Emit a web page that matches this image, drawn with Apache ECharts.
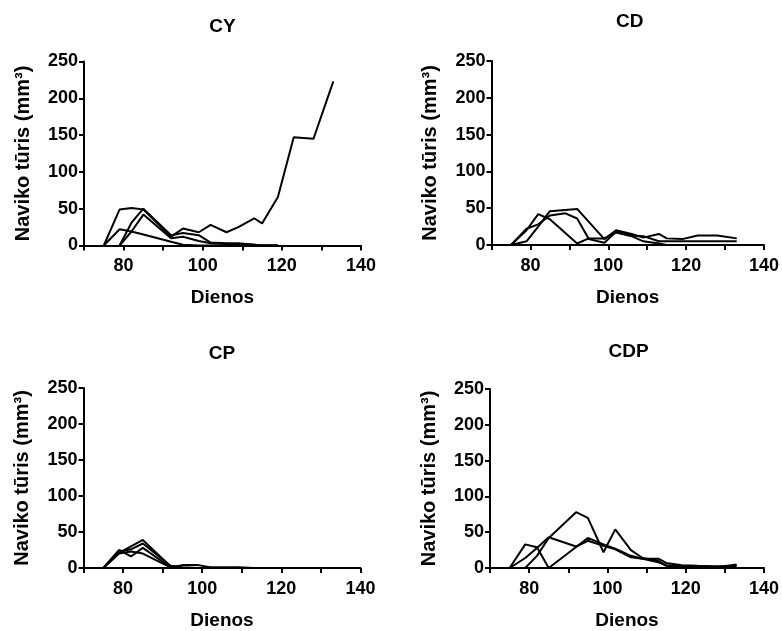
<!DOCTYPE html>
<html>
<head>
<meta charset="utf-8">
<script src="https://cdn.jsdelivr.net/npm/echarts@6/dist/echarts.min.js"></script>
<style>
  html, body { margin: 0; padding: 0; background: #fff; }
  #chart { width: 782px; height: 631px; }
</style>
</head>
<body>
<div id="chart"></div>
<script>
// Measurement days shared by every animal (null = not measured)
const days = [75, 79, 82, 85, 89, 92, 95, 99, 102, 106, 109, 113, 115, 119, 123, 128, 133];

// Tumour volume (mm³) per animal, group CY
const cy1 = [0, 49, 51, 49, null, 12, 23, 18, 28, 18, 25, 37, 30, 66, 147, 145, 223];
const cy2 = [0, 22, 19, 15, null, 5, 1, 0, 0, 0, 0, 0, 0, 0, null, null, null];
const cy3 = [null, 0, 31, 50, null, 14, 17, 14, 4, 3, 3, 1, 0, 0, null, null, null];
const cy4 = [null, 0, 19, 42, null, 10, 12, 6, 3, 2, 2, 1, 0, 0, null, null, null];

// Group CD
const cd1 = [0, 20, 42, 35, null, 2, 9, 9, 17, 12, 5, 2, 0, 0, null, null, null];
const cd2 = [0, 5, 25, 46, null, 49, null, 8, 20, 15, 10, 15, 9, 8, 13, 13, 9];
const cd3 = [0, 22, 28, 40, 43, 36, 8, 3, 18, 13, 12, 5, 5, 5, 5, 5, 5];

// Group CP
const cp1 = [0, 21, 30, 39, null, 2, 0, 0, 0, 0, 0, 0, 0, null, null, null, null];
const cp2 = [0, 23, 26, 34, null, 3, 1, 0, 0, 0, 0, 0, 0, null, null, null, null];
const cp3 = [0, 25, 16, 28, null, 1, 4, 4, 1, 1, 1, 0, 0, null, null, null, null];
const cp4 = [0, 20, 23, 20, null, 1, 0, 0, 0, 0, 0, 0, 0, null, null, null, null];

// Group CDP
const cdp1 = [0, 14, 28, 43, null, 30, 38, 31, 26, 15, 13, 13, 7, 4, 3, 2, 2];
const cdp2 = [0, 33, 29, 0, null, null, 42, 33, 27, 17, 13, 8, 4, 2, 2, 1, 5];
const cdp3 = [null, 0, 17, 42, null, 78, 70, 22, 54, 25, 14, 10, 3, 2, 2, 2, 3];

const groupNames = ['CY', 'CD', 'CP', 'CDP'];
const groupSeries = [[cy1, cy2, cy3, cy4], [cd1, cd2, cd3], [cp1, cp2, cp3, cp4], [cdp1, cdp2, cdp3]];

const xTicks = [80, 100, 120, 140];
const yName = 'Naviko tūris (mm³)';
const xName = 'Dienos';

const FONT = '"Liberation Sans", Arial, Helvetica, sans-serif';

// Plot-area rectangles for the 2×2 layout
const rects = [
  { left: 84, top: 61.5, width: 277, height: 184 },
  { left: 491.5, top: 61, width: 276.5, height: 184 },
  { left: 83.5, top: 388, width: 277, height: 184 },
  { left: 490, top: 389, width: 277, height: 184 }
];
const titleTops = [17, 12, 344, 342];

const axisLine = { lineStyle: { color: '#000', width: 2 } };
const axisTick = { length: 5, lineStyle: { color: '#000', width: 2 } };
const labelStyle = { color: '#000', fontWeight: 'bold', fontSize: 18, fontFamily: FONT };

const option = {
  animation: false,
  backgroundColor: '#fff',
  title: groupNames.map((t, i) => ({
    text: t,
    left: rects[i].left + rects[i].width / 2,
    top: titleTops[i],
    textAlign: 'center',
    padding: 0,
    textStyle: { color: '#000', fontWeight: 'bold', fontSize: 19, fontFamily: FONT }
  })),
  grid: rects.map(r => Object.assign({ containLabel: false }, r)),
  xAxis: rects.map((r, i) => ({
    type: 'value',
    gridIndex: i,
    min: 70,
    max: 140,
    interval: 10,
    axisLine: axisLine,
    axisTick: axisTick,
    splitLine: { show: false },
    axisLabel: Object.assign({
      margin: 12,
      formatter: v => (xTicks.indexOf(v) >= 0 ? String(v) : '')
    }, labelStyle),
    name: xName,
    nameLocation: 'middle',
    nameGap: 43,
    nameTextStyle: { color: '#000', fontWeight: 'bold', fontSize: 19, fontFamily: FONT }
  })),
  yAxis: rects.map((r, i) => ({
    type: 'value',
    gridIndex: i,
    min: 0,
    max: 250,
    interval: 50,
    axisLine: Object.assign({ show: true }, axisLine),
    axisTick: Object.assign({ show: true }, axisTick),
    splitLine: { show: false },
    axisLabel: Object.assign({ margin: 6 }, labelStyle),
    name: yName,
    nameLocation: 'middle',
    nameRotate: 90,
    nameGap: 51,
    nameTextStyle: { color: '#000', fontWeight: 'bold', fontSize: 20, fontFamily: FONT }
  })),
  series: []
};

groupSeries.forEach((list, g) => {
  list.forEach(vals => {
    const pts = [];
    days.forEach((d, k) => { if (vals[k] !== null) pts.push([d, vals[k]]); });
    option.series.push({
      type: 'line',
      xAxisIndex: g,
      yAxisIndex: g,
      data: pts,
      symbol: 'none',
      lineStyle: { color: '#000', width: 2 },
      z: 1
    });
  });
});

const chart = echarts.init(document.getElementById('chart'), null, { renderer: 'canvas' });
chart.setOption(option);
</script>
</body>
</html>
